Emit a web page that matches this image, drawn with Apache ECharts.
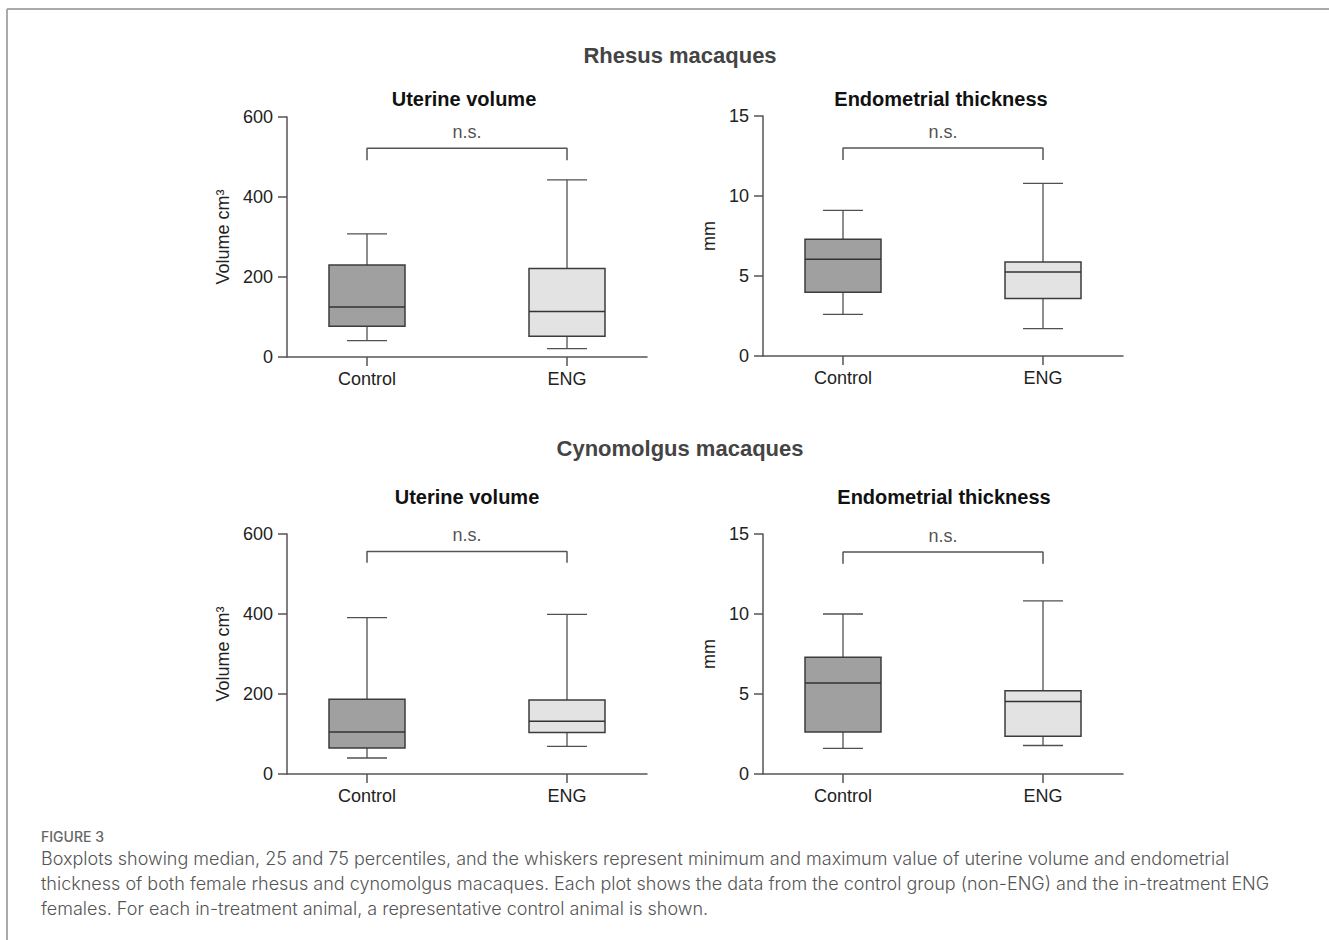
<!DOCTYPE html>
<html>
<head>
<meta charset="utf-8">
<title>Figure 3 boxplots</title>
<script src="https://cdn.jsdelivr.net/npm/echarts@6/dist/echarts.min.js"></script>
<style>
  html, body { margin: 0; padding: 0; background: #ffffff; }
  #chart { width: 1329px; height: 940px; }
</style>
</head>
<body>
<div id="chart"></div>
<script>
// ---------------- data ----------------
const categories = ['Control', 'ENG'];
// [min, Q1, median, Q3, max]
const rhesusVolumeControl = [41, 77, 125, 230, 308];
const rhesusVolumeENG = [21, 52, 114, 221, 443];
const rhesusThicknessControl = [2.6, 3.98, 6.04, 7.29, 9.1];
const rhesusThicknessENG = [1.71, 3.6, 5.25, 5.88, 10.79];
const cynoVolumeControl = [40, 65, 105, 187, 391];
const cynoVolumeENG = [69, 104, 132, 185, 399];
const cynoThicknessControl = [1.6, 2.63, 5.68, 7.29, 10.0];
const cynoThicknessENG = [1.78, 2.36, 4.53, 5.2, 10.82];
// axis ticks
const volumeTicks = [0, 200, 400, 600];
const thicknessTicks = [0, 5, 10, 15];
// significance brackets [drop end, bar level]
const bracketRhesusVolume = [492, 522];
const bracketRhesusThickness = [12.25, 13.0];
const bracketCynoVolume = [528, 556];
const bracketCynoThickness = [13.14, 13.87];
const sigLabel = 'n.s.';

// ---------------- styles ----------------
const FONT = 'Liberation Sans, Arial, Helvetica, sans-serif';
const CAPTION_FONT = 'Inter, Lato, sans-serif';
const AXIS_COLOR = '#555555';
const BOX_FILLS = ['#a0a0a0', '#e3e3e3'];
const BOX_WIDTH = 0.38;   // in x-axis units
const CAP_WIDTH = 0.2;

const panels = [
  { title: 'Uterine volume', yName: 'Volume cm\u00b3', nameGap: 55, ticks: volumeTicks,
    boxes: [rhesusVolumeControl, rhesusVolumeENG], bracket: bracketRhesusVolume,
    grid: { left: 287, top: 117, width: 360, height: 240 } },
  { title: 'Endometrial thickness', yName: 'mm', nameGap: 45, ticks: thicknessTicks,
    boxes: [rhesusThicknessControl, rhesusThicknessENG], bracket: bracketRhesusThickness,
    grid: { left: 763, top: 116, width: 360, height: 240 } },
  { title: 'Uterine volume', yName: 'Volume cm\u00b3', nameGap: 55, ticks: volumeTicks,
    boxes: [cynoVolumeControl, cynoVolumeENG], bracket: bracketCynoVolume,
    grid: { left: 287, top: 534, width: 360, height: 240 } },
  { title: 'Endometrial thickness', yName: 'mm', nameGap: 45, ticks: thicknessTicks,
    boxes: [cynoThicknessControl, cynoThicknessENG], bracket: bracketCynoThickness,
    grid: { left: 763, top: 534, width: 360, height: 240 } }
];

function renderBox(params, api) {
  const x = api.value(0);
  const vMin = api.value(1), q1 = api.value(2), med = api.value(3), q3 = api.value(4), vMax = api.value(5);
  const pMin = api.coord([x, vMin]);
  const pQ1 = api.coord([x, q1]);
  const pMed = api.coord([x, med]);
  const pQ3 = api.coord([x, q3]);
  const pMax = api.coord([x, vMax]);
  const halfBox = api.size([BOX_WIDTH, 0])[0] / 2;
  const halfCap = api.size([CAP_WIDTH, 0])[0] / 2;
  const cx = pMed[0];
  const whiskerStyle = { stroke: '#505050', lineWidth: 1.3 };
  return {
    type: 'group',
    children: [
      { type: 'line', shape: { x1: cx, y1: pMin[1], x2: cx, y2: pQ1[1] }, style: whiskerStyle },
      { type: 'line', shape: { x1: cx, y1: pQ3[1], x2: cx, y2: pMax[1] }, style: whiskerStyle },
      { type: 'line', shape: { x1: cx - halfCap, y1: pMin[1], x2: cx + halfCap, y2: pMin[1] }, style: whiskerStyle },
      { type: 'line', shape: { x1: cx - halfCap, y1: pMax[1], x2: cx + halfCap, y2: pMax[1] }, style: whiskerStyle },
      { type: 'rect', shape: { x: cx - halfBox, y: pQ3[1], width: halfBox * 2, height: pQ1[1] - pQ3[1] },
        style: { fill: BOX_FILLS[params.dataIndex], stroke: '#3c3c3c', lineWidth: 1.5 } },
      { type: 'line', shape: { x1: cx - halfBox, y1: pMed[1], x2: cx + halfBox, y2: pMed[1] },
        style: { stroke: '#333333', lineWidth: 1.5 } }
    ]
  };
}

const grids = [], xAxes = [], yAxes = [], series = [];
panels.forEach((p, i) => {
  grids.push(Object.assign({ containLabel: false }, p.grid));
  xAxes.push({
    type: 'value', gridIndex: i, min: -0.4, max: 1.4,
    splitLine: { show: false },
    axisLine: { show: true, onZero: false, lineStyle: { color: AXIS_COLOR, width: 1.5 } },
    axisTick: { show: true, customValues: [0, 1], length: 9, lineStyle: { color: AXIS_COLOR, width: 1.5 } },
    axisLabel: { show: true, customValues: [0, 1], margin: 13, fontSize: 18, color: '#222', fontFamily: FONT,
      formatter: v => categories[Math.round(v)] }
  });
  yAxes.push({
    type: 'value', gridIndex: i, min: p.ticks[0], max: p.ticks[p.ticks.length - 1],
    interval: p.ticks[1] - p.ticks[0],
    name: p.yName, nameLocation: 'middle', nameGap: p.nameGap, nameRotate: 90,
    nameTextStyle: { fontSize: 18, color: '#222', fontFamily: FONT },
    splitLine: { show: false },
    axisLine: { show: true, onZero: false, lineStyle: { color: AXIS_COLOR, width: 1.5 } },
    axisTick: { show: true, length: 9, lineStyle: { color: AXIS_COLOR, width: 1.5 } },
    axisLabel: { margin: 14, fontSize: 18, color: '#222', fontFamily: FONT }
  });
  series.push({
    type: 'custom', xAxisIndex: i, yAxisIndex: i,
    renderItem: renderBox,
    encode: { x: 0, y: [1, 2, 3, 4, 5] },
    data: p.boxes.map((b, k) => [k].concat(b)),
    silent: true, clip: false
  });
  const lo = p.bracket[0], hi = p.bracket[1];
  series.push({
    type: 'line', xAxisIndex: i, yAxisIndex: i,
    data: [[0, lo], [0, hi], [1, hi], [1, lo]],
    symbol: 'none', lineStyle: { color: '#555', width: 1.5 }, silent: true, animation: false
  });
  series.push({
    type: 'scatter', xAxisIndex: i, yAxisIndex: i,
    data: [[0.5, hi]], symbolSize: 1, itemStyle: { color: 'rgba(0,0,0,0)' },
    label: { show: true, position: 'top', distance: 7, formatter: sigLabel,
      fontSize: 18, color: '#222', fontFamily: FONT },
    silent: true
  });
});

const titleStyle = (x, y, text, size, color) => ({
  type: 'text', x: x, y: y,
  style: { text: text, fill: color, font: 'bold ' + size + 'px ' + FONT, textAlign: 'center', textVerticalAlign: 'middle' },
  silent: true
});

const captionLines = [
  'Boxplots showing median, 25 and 75 percentiles, and the whiskers represent minimum and maximum value of uterine volume and endometrial',
  'thickness of both female rhesus and cynomolgus macaques. Each plot shows the data from the control group (non-ENG) and the in-treatment ENG',
  'females. For each in-treatment animal, a representative control animal is shown.'
];

const graphics = [
  { type: 'line', shape: { x1: 7, y1: 9, x2: 1329, y2: 9 }, style: { stroke: '#aaaaaa', lineWidth: 2 }, silent: true },
  { type: 'line', shape: { x1: 7, y1: 9, x2: 7, y2: 940 }, style: { stroke: '#aaaaaa', lineWidth: 2 }, silent: true },
  titleStyle(680, 55, 'Rhesus macaques', 22, '#444444'),
  titleStyle(680, 448, 'Cynomolgus macaques', 22, '#444444'),
  titleStyle(464, 99, panels[0].title, 20, '#111111'),
  titleStyle(941, 99, panels[1].title, 20, '#111111'),
  titleStyle(467, 497, panels[2].title, 20, '#111111'),
  titleStyle(944, 497, panels[3].title, 20, '#111111'),
  { type: 'text', x: 41, y: 836,
    style: { text: 'FIGURE 3', fill: '#666666', font: '500 14px ' + CAPTION_FONT, textVerticalAlign: 'middle' }, silent: true },
  { type: 'text', x: 41, y: 845.5,
    style: { text: captionLines.join('\n'), fill: '#555555', font: '300 18px ' + CAPTION_FONT, lineHeight: 25 }, silent: true }
];

const chart = echarts.init(document.getElementById('chart'), null, { renderer: 'svg' });
chart.setOption({
  animation: false,
  backgroundColor: '#ffffff',
  grid: grids,
  xAxis: xAxes,
  yAxis: yAxes,
  series: series,
  graphic: graphics
});
</script>
</body>
</html>
